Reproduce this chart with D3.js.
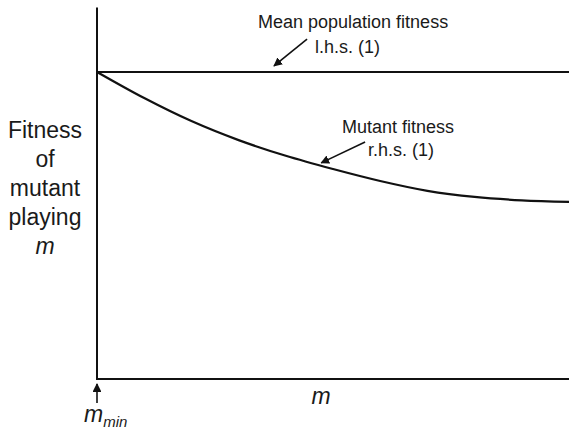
<!DOCTYPE html>
<html>
<head>
<meta charset="utf-8">
<script src="https://cdn.jsdelivr.net/npm/d3@7"></script>
<style>
  html, body { margin: 0; padding: 0; background: #fff; }
  svg { display: block; }
  text { font-family: "Liberation Sans", Arial, Helvetica, sans-serif; fill: #1a1a1a; }
</style>
</head>
<body>
<svg id="chart" width="569" height="432"></svg>
<script>
// ---- data ----
const mValues = [0, 0.1, 0.2, 0.3, 0.4, 0.5, 0.6, 0.7, 0.8, 0.9, 1.0];
const mutantFitness = [1.0, 0.915, 0.840, 0.778, 0.727, 0.684, 0.645, 0.613, 0.593, 0.582, 0.577];
const meanFitness = [1.0, 1.0];
const meanM = [0, 1.0];
const yLabelLines = ["Fitness", "of", "mutant", "playing", "m"];
// annotations: [tail m, tail value, tip m, tip value]
const lhsArrow = [0.445, 1.107, 0.375, 1.02];
const rhsArrow = [0.568, 0.772, 0.475, 0.704];

// ---- drawing ----
const svg = d3.select("#chart");
const x = d3.scaleLinear().domain([0, 1]).range([97, 569]);
const y = d3.scaleLinear().domain([0, 1]).range([379, 72]);
const yTop = 1.21;
const ink = "#111";

svg.append("defs").append("marker")
  .attr("id", "ah").attr("viewBox", "0 0 10 10")
  .attr("refX", 9).attr("refY", 5)
  .attr("markerWidth", 5.5).attr("markerHeight", 5.5)
  .attr("markerUnits", "strokeWidth")
  .attr("orient", "auto")
  .append("path").attr("d", "M0,0 L10,5 L0,10 Z").attr("fill", ink);

// axes
svg.append("path")
  .attr("d", d3.line()([[x(0), y(yTop)], [x(0), y(0)], [x(1), y(0)]]))
  .attr("fill", "none").attr("stroke", ink).attr("stroke-width", 2);

// mean population fitness line
svg.append("path")
  .datum(meanM.map((m, i) => [m, meanFitness[i]]))
  .attr("d", d3.line().x(d => x(d[0])).y(d => y(d[1])))
  .attr("fill", "none").attr("stroke", ink).attr("stroke-width", 2);

// mutant fitness curve
svg.append("path")
  .datum(mValues.map((m, i) => [m, mutantFitness[i]]))
  .attr("d", d3.line().x(d => x(d[0])).y(d => y(d[1])).curve(d3.curveMonotoneX))
  .attr("fill", "none").attr("stroke", ink).attr("stroke-width", 2.2);

// annotation arrows
[lhsArrow, rhsArrow].forEach(a => {
  svg.append("line")
    .attr("x1", x(a[0])).attr("y1", y(a[1]))
    .attr("x2", x(a[2])).attr("y2", y(a[3]))
    .attr("stroke", ink).attr("stroke-width", 1.6)
    .attr("marker-end", "url(#ah)");
});

// annotation texts
const ann = [
  ["Mean population fitness", 258, 28],
  ["l.h.s. (1)", 315, 53],
  ["Mutant fitness", 342, 133],
  ["r.h.s. (1)", 368, 156]
];
ann.forEach(t => {
  svg.append("text").attr("x", t[1]).attr("y", t[2])
    .attr("font-size", 18).text(t[0]);
});

// y label
yLabelLines.forEach((s, i) => {
  svg.append("text")
    .attr("x", 45).attr("y", 138 + i * 29)
    .attr("text-anchor", "middle")
    .attr("font-size", 23)
    .attr("font-style", s === "m" ? "italic" : "normal")
    .text(s);
});

// x label
svg.append("text").attr("x", 321).attr("y", 404)
  .attr("text-anchor", "middle").attr("font-size", 23)
  .attr("font-style", "italic").text("m");

// m_min marker
svg.append("line")
  .attr("x1", x(0)).attr("y1", 403)
  .attr("x2", x(0)).attr("y2", 384)
  .attr("stroke", ink).attr("stroke-width", 1.6)
  .attr("marker-end", "url(#ah)");
const mm = svg.append("text").attr("x", 84).attr("y", 422)
  .attr("font-size", 23).attr("font-style", "italic");
mm.append("tspan").text("m");
mm.append("tspan").attr("font-size", 15).attr("dy", 5).text("min");
</script>
</body>
</html>
